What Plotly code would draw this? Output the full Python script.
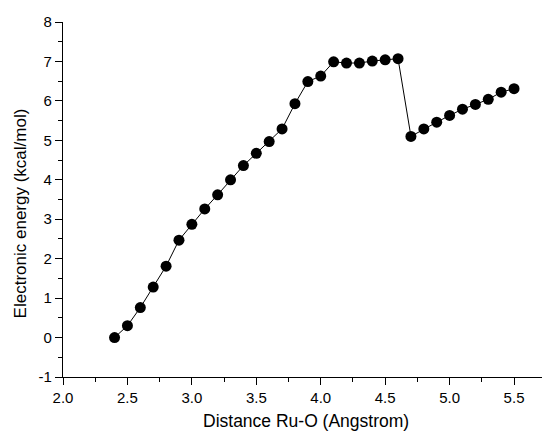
import plotly.graph_objects as go

distance = [2.4, 2.5, 2.6, 2.7, 2.8, 2.9, 3.0, 3.1, 3.2, 3.3, 3.4, 3.5, 3.6, 3.7, 3.8, 3.9,
            4.0, 4.1, 4.2, 4.3, 4.4, 4.5, 4.6, 4.7, 4.8, 4.9, 5.0, 5.1, 5.2, 5.3, 5.4, 5.5]
energy = [0.00, 0.30, 0.76, 1.28, 1.81, 2.47, 2.87, 3.26, 3.62, 4.00, 4.36, 4.67, 4.97, 5.29, 5.93, 6.49,
          6.63, 6.99, 6.96, 6.96, 7.01, 7.04, 7.07, 5.10, 5.29, 5.46, 5.63, 5.79, 5.91, 6.04, 6.22, 6.31]
y_tick_vals = [-1, 0, 1, 2, 3, 4, 5, 6, 7, 8]
y_tick_text = ["-1", "0", "1", "2", "3", "4", "5", "6", "7", "8"]
x_title = "Distance Ru-O (Angstrom)"
y_title = "Electronic energy (kcal/mol)"

fig = go.Figure()
fig.add_trace(go.Scatter(
    x=distance, y=energy, mode="lines+markers",
    line=dict(color="black", width=1),
    marker=dict(color="black", size=11),
    showlegend=False,
))

font = "Liberation Sans, Arial, sans-serif"
fig.update_layout(
    width=542, height=433,
    margin=dict(l=62.5, r=0, t=21.5, b=56.3),
    plot_bgcolor="white", paper_bgcolor="white",
    font=dict(family=font, size=15, color="black"),
    xaxis=dict(
        range=[2.0, 5.717], tick0=2.0, dtick=0.5, tickformat=".1f",
        showline=True, linecolor="black", linewidth=1.3,
        ticks="outside", ticklen=7, tickcolor="black", tickwidth=1.3,
        minor=dict(ticks="outside", ticklen=4, dtick=0.25, tickcolor="black", tickwidth=1.3),
        showgrid=False, zeroline=False, automargin=False,
    ),
    yaxis=dict(
        range=[-1, 8], tickmode="array", tickvals=y_tick_vals, ticktext=y_tick_text,
        showline=True, linecolor="black", linewidth=1.3,
        ticks="outside", ticklen=7, tickcolor="black", tickwidth=1.3,
        minor=dict(ticks="outside", ticklen=4, tick0=-1, dtick=0.5, tickcolor="black", tickwidth=1.3),
        showgrid=False, zeroline=False, automargin=False,
    ),
    annotations=[
        dict(text=x_title, xref="paper", yref="paper", x=0.507, y=-0.1247,
             xanchor="center", yanchor="middle", showarrow=False,
             font=dict(size=17.5, family=font, color="black")),
        dict(text=y_title, xref="paper", yref="paper", x=-0.0897, y=0.461,
             xanchor="center", yanchor="middle", showarrow=False, textangle=-90,
             font=dict(size=17, family=font, color="black")),
    ],
)

fig.write_html("out.html",
               config={"displayModeBar": False},
               post_script="document.body.style.margin='0';document.body.style.overflow='hidden';")
